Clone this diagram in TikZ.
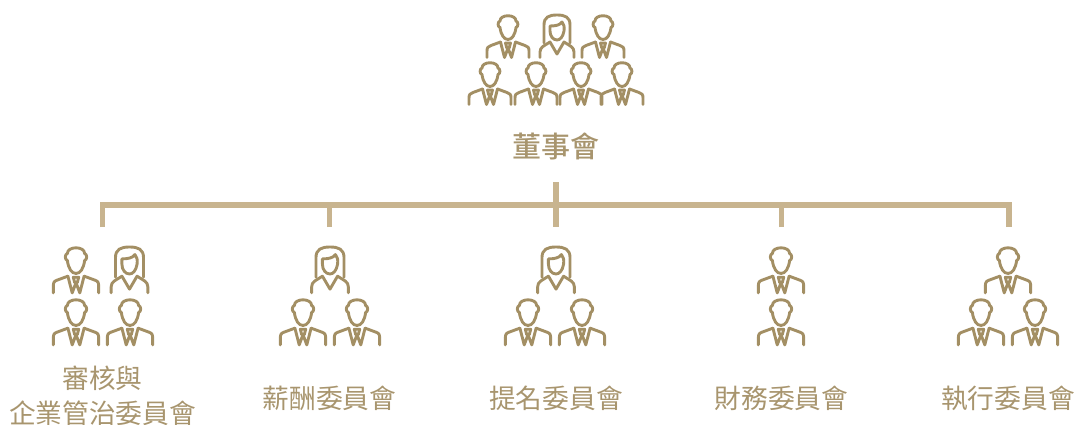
\documentclass[tikz,border=0pt]{standalone}
\usepackage{fontspec}
\setmainfont{Noto Sans CJK TC}[BoldFont={Noto Sans CJK TC Medium}]
\definecolor{icon}{HTML}{A38F64}
\definecolor{bar}{HTML}{C8B48F}
\definecolor{txt}{HTML}{A8956E}
\tikzset{
  iconline/.style={draw=icon,line width=2.9pt,line cap=round,line join=round},
  barline/.style={draw=bar,line width=5.4pt},
  lab/.style={text=txt,font=\fontsize{26.7}{36}\selectfont,align=center,inner sep=0pt},
  big/.style={scale=1.08},
  man/.pic={
    \path[iconline] (-8,6) .. controls (-8,-1) and (8,-1) .. (8,6)
      .. controls (10.5,6.5) and (10.5,12) .. (8,12.5)
      .. controls (7,20) and (4,24.5) .. (0,24.5)
      .. controls (-4,24.5) and (-7,20) .. (-8,12.5)
      .. controls (-10.5,12) and (-10.5,6.5) .. (-8,6) -- cycle;
    \path[iconline] (-21,42.5) -- (-21,36) .. controls (-21,32.5) and (-20,31.5) .. (-17,30.5) -- (-7.5,27);
    \path[iconline] (21,42.5) -- (21,36) .. controls (21,32.5) and (20,31.5) .. (17,30.5) -- (7.5,27);
    \path[iconline] (-7.5,27) -- (-3.5,42.5) -- (0,33) -- (3.5,42.5) -- (7.5,27);
    \path[iconline] (-2.5,28) -- (2.5,28) -- (1.2,33) -- (-1.2,33) -- cycle;
  },
  woman/.pic={
    \path[iconline] (-13,28) -- (-13,10) .. controls (-13,2) and (-8,0) .. (0,0)
      .. controls (8,0) and (13,2) .. (13,10) -- (13,28);
    \path[iconline] (-7,11) .. controls (-1,11) and (3,10) .. (5,7)
      .. controls (7,9) and (7.5,12) .. (7,16)
      .. controls (6,22) and (3,25) .. (0,25)
      .. controls (-4,25) and (-7,21) .. (-7,16) -- cycle;
    \path[iconline] (-17,42.5) -- (-17,37) .. controls (-17,32) and (-13,31) .. (-7,27) -- (0,39) -- (7,27)
      .. controls (13,31) and (17,32) .. (17,37) -- (17,42.5);
  }
}
\begin{document}
\begin{tikzpicture}[x=1pt,y=-1pt]
\useasboundingbox (0,0) rectangle (1075,425);
% top icons
\foreach \x in {508,603} \pic at (\x,15) {man};
\pic at (557,15) {woman};
\foreach \x in {490,536,581,622} \pic at (\x,62) {man};
\node[lab,font=\fontsize{29}{36}\selectfont\bfseries] (board) at (556,146) {董事會};
% connectors
\coordinate (trunk) at (556,182);
\coordinate (hub) at (556,205);
\coordinate (drop1) at (102.7,227);
\coordinate (drop2) at (329.5,227);
\coordinate (drop3) at (556,227);
\coordinate (drop4) at (781.5,227);
\coordinate (drop5) at (1009,227);
\draw[barline] (trunk) -- (drop3);
\draw[barline] (drop1) |- (hub);
\draw[barline] (drop5) |- (hub);
\draw[barline] (drop2) -- (drop2 |- hub);
\draw[barline] (drop4) -- (drop4 |- hub);
% group 1
\pic[big] at (76,247) {man};
\pic[big] at (129.5,247) {woman};
\pic[big] at (76,299) {man};
\pic[big] at (130,299) {man};
\node[lab] (audit1) at (102.5,378) {審核與};
\node[lab] (audit2) at (102.5,413.5) {企業管治委員會};
% group 2
\pic[big] at (330,247) {woman};
\pic[big] at (303,299) {man};
\pic[big] at (357,299) {man};
\node[lab] (pay) at (329.5,398) {薪酬委員會};
% group 3
\pic[big] at (556,247) {woman};
\pic[big] at (528,299) {man};
\pic[big] at (582,299) {man};
\node[lab] (nom) at (556,398) {提名委員會};
% group 4
\pic[big] at (781,247) {man};
\pic[big] at (781,299) {man};
\node[lab] (fin) at (781.5,398) {財務委員會};
% group 5
\pic[big] at (1008,247) {man};
\pic[big] at (981,299) {man};
\pic[big] at (1035,299) {man};
\node[lab] (exec) at (1008,398) {執行委員會};
\end{tikzpicture}
\end{document}
